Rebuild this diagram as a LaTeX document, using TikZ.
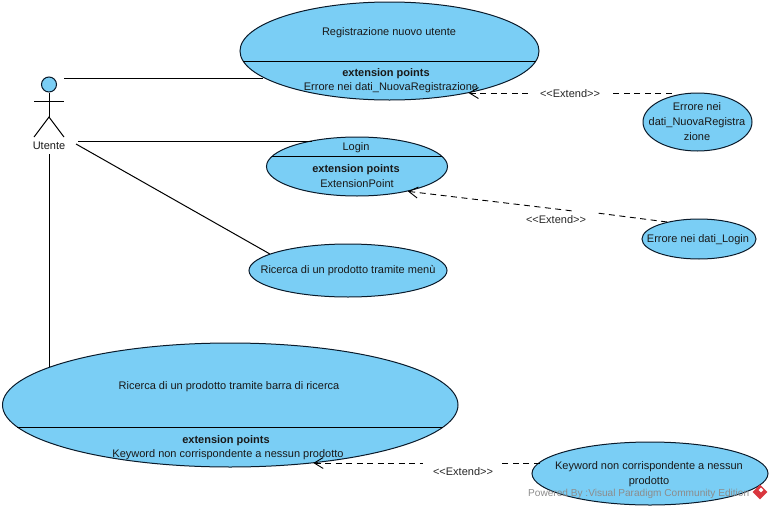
\documentclass[tikz,border=0pt]{standalone}
\usepackage{fontspec}
\setmainfont{Liberation Sans}
\usepackage{xcolor}
\usetikzlibrary{arrows.meta, shapes.geometric}
\definecolor{ucblue}{HTML}{7ACEF5}
\definecolor{ucline}{HTML}{0A1A2A}
\definecolor{vpred}{HTML}{D9363E}

\begin{document}
\begin{tikzpicture}[
  x=1pt, y=-1pt,
  usecase/.style={ellipse, draw=ucline, fill=ucblue, line width=1pt, inner sep=0pt},
  txt/.style={font=\fontsize{11}{15}\selectfont, align=center, inner sep=0pt, text=black!90, yshift=-1.5pt},
  boldtxt/.style={txt, font=\fontsize{11}{15}\selectfont\bfseries},
  extlabel/.style={txt, text=black!85},
  assoc/.style={draw=black, line width=1pt},
  sep/.style={draw=black, line width=1pt},
  dep/.style={draw=black, line width=0.9pt, dash pattern=on 6pt off 4.5pt},
  deparr/.style={dep, {Straight Barb[length=9pt, width=11pt, line width=0.9pt]}-},
]
  \useasboundingbox (0,0) rectangle (772,509);

  % use cases
  \node[usecase, minimum width=299pt, minimum height=98pt] (regis) at (389.5,51) {};
  \node[usecase, minimum width=181pt, minimum height=59pt] (login) at (357,166.5) {};
  \node[usecase, minimum width=198pt, minimum height=53pt] (menu) at (348,270.5) {};
  \node[usecase, minimum width=455.5pt, minimum height=124pt] (barra) at (230.25,405) {};
  \node[usecase, minimum width=109pt, minimum height=58pt] (datiReg) at (697.5,122) {};
  \node[usecase, minimum width=114pt, minimum height=40pt] (datiLogin) at (699,239) {};
  \node[usecase, minimum width=236pt, minimum height=63pt] (keyword) at (650,473.5) {};

  % compartments
  \draw[sep] (regis.184.5) -- (regis.-4.5);
  \draw[sep] (login.173) -- (login.7);
  \draw[sep] (barra.186.8) -- (barra.-6.8);

  % texts
  \node[txt] (regisName) at (389,31) {Registrazione nuovo utente};
  \node[boldtxt] (regisExt) at (386,72) {extension points};
  \node[txt] (regisPoint) at (391,86) {Errore nei dati\_NuovaRegistrazione};
  \node[txt] (loginName) at (356,146) {Login};
  \node[boldtxt] (loginExt) at (356,168) {extension points};
  \node[txt] (loginPoint) at (357,182.5) {ExtensionPoint};
  \node[txt] (menuName) at (348,269) {Ricerca di un prodotto tramite menù};
  \node[txt] (barraName) at (229,385) {Ricerca di un prodotto tramite barra di ricerca};
  \node[boldtxt] (barraExt) at (226,439) {extension points};
  \node[txt] (barraPoint) at (228,453.5) {Keyword non corrispondente a nessun prodotto};
  \node[txt] (datiRegName) at (697,120) {Errore nei\\dati\_NuovaRegistra\\zione};
  \node[txt] (datiLoginName) at (698,238) {Errore nei dati\_Login};
  \node[txt] (keywordName) at (649,473) {Keyword non corrispondente a nessun\\prodotto};

  % actor
  \node[circle, draw=ucline, fill=ucblue, line width=1pt, minimum size=15pt, inner sep=0pt] (head) at (49,84.5) {};
  \coordinate (hip) at (49,117);
  \coordinate (armL) at (34,101);
  \coordinate (armR) at (64,101);
  \coordinate (footL) at (34,137);
  \coordinate (footR) at (64,137);
  \draw[assoc] (head) -- (hip);
  \draw[assoc] (armL) -- (armR);
  \draw[assoc] (footL) -- (hip) -- (footR);
  \node[txt] (utente) at (49,144) {Utente};

  % associations
  \coordinate (utenteTop) at (64,78);
  \coordinate (utenteMid) at (78,141);
  \coordinate (utenteDiag) at (76,144);
  \coordinate (utenteLow) at (49,154);
  \draw[assoc] (utenteTop) -- (regis.192.2 |- utenteTop);
  \draw[assoc] (utenteMid) -- (login.150.6 |- utenteMid);
  \draw[assoc] (utenteDiag) -- (menu.168);
  \draw[assoc] (utenteLow) -- (utenteLow |- barra.168.1);

  % extend
  \coordinate (gapRegA) at (532,93);
  \coordinate (gapRegB) at (610,93);
  \coordinate (gapLogA) at (573,211);
  \coordinate (gapLogB) at (597,213);
  \coordinate (gapKeyA) at (423,463);
  \coordinate (gapKeyB) at (502,463);
  \draw[dep] (datiReg.135 |- gapRegB) -- (gapRegB);
  \draw[deparr] (regis.-28 |- gapRegA) -- (gapRegA);
  \draw[dep] (datiLogin.152) -- (gapLogB);
  \draw[deparr] (login.-26.1) -- (gapLogA);
  \draw[dep] (keyword.174.6 |- gapKeyB) -- (gapKeyB);
  \draw[deparr] (barra.-35.7 |- gapKeyA) -- (gapKeyA);
  \node[extlabel] (extReg) at (570,92) {<{}<Extend>{}>};
  \node[extlabel] (extLog) at (556,218) {<{}<Extend>{}>};
  \node[extlabel] (extKey) at (463,470) {<{}<Extend>{}>};

  % watermark
  \node[txt, font=\fontsize{10.1}{13}\selectfont, text=black!45, anchor=west] (powered) at (528,492) {Powered By :Visual Paradigm Community Edition};
  \node[diamond, fill=vpred, minimum size=15pt, inner sep=0pt] (vpmark) at (760,492) {};
  \node[diamond, fill=white, minimum size=5pt, inner sep=0pt] (vpinner) at (761,490) {};
\end{tikzpicture}
\end{document}
